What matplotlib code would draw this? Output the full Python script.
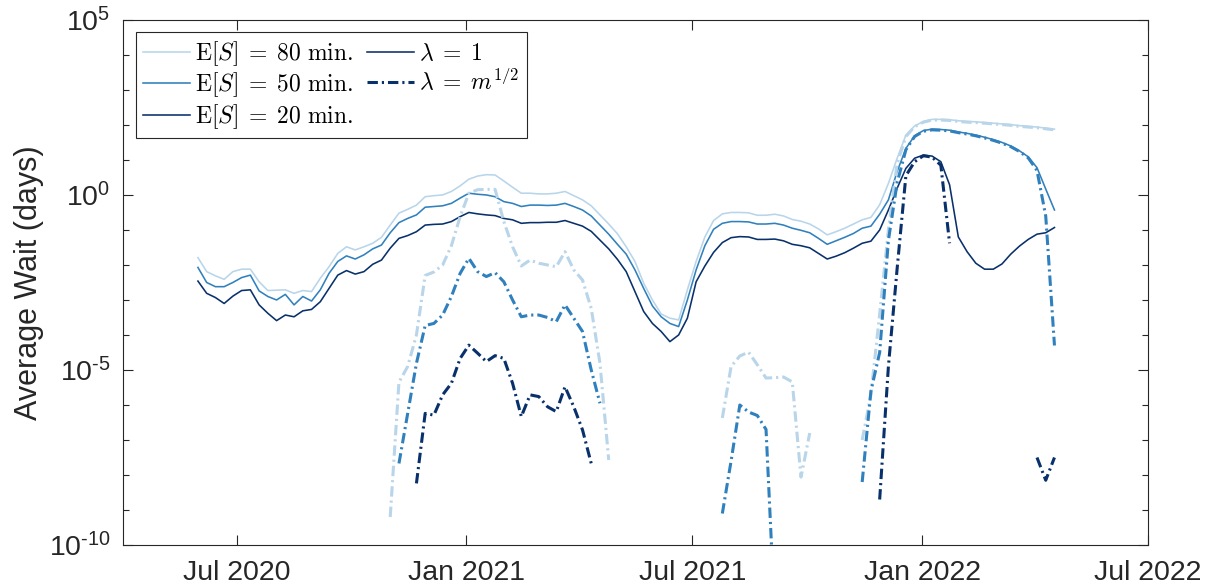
import numpy as np
import pandas as pd
import matplotlib
matplotlib.use("Agg")
import matplotlib.pyplot as plt
import matplotlib.dates as mdates
from matplotlib.lines import Line2D
from matplotlib.font_manager import FontProperties
from matplotlib.ticker import FixedLocator, FuncFormatter, NullFormatter

nan = np.nan

# weekly samples, values are log10(average wait in days)
dates = pd.date_range("2020-05-31", periods=99, freq="7D")

# lambda = 1 (solid)
es80_lam1 = [
    -1.79, -2.19, -2.31, -2.41, -2.19, -2.12, -2.12, -2.48, -2.73, -2.72,
    -2.71, -2.81, -2.73, -2.76, -2.38, -2.05, -1.67, -1.48, -1.57, -1.48,
    -1.38, -1.21, -0.86, -0.52, -0.41, -0.29, -0.05, -0.02, 0.00, 0.10,
    0.26, 0.45, 0.54, 0.58, 0.57, 0.40, 0.22, 0.05, 0.05, 0.03,
    0.03, 0.05, 0.10, -0.02, -0.14, -0.31, -0.57, -0.83, -1.11, -1.48,
    -1.90, -2.52, -3.00, -3.40, -3.52, -3.57, -2.71, -1.90, -1.20, -0.73,
    -0.54, -0.50, -0.50, -0.51, -0.58, -0.58, -0.55, -0.60, -0.70, -0.75,
    -0.83, -0.97, -1.14, -1.05, -0.95, -0.83, -0.71, -0.64, -0.28, 0.33,
    1.05, 1.71, 1.97, 2.10, 2.16, 2.16, 2.15, 2.12, 2.10, 2.09,
    2.07, 2.05, 2.03, 2.01, 1.98, 1.96, 1.94, 1.91, 1.88,
]
es50_lam1 = [
    -2.07, -2.50, -2.62, -2.62, -2.50, -2.36, -2.29, -2.74, -2.90, -3.00,
    -2.84, -3.14, -2.90, -3.03, -2.71, -2.24, -1.90, -1.74, -1.83, -1.71,
    -1.54, -1.43, -1.08, -0.79, -0.67, -0.57, -0.35, -0.33, -0.31, -0.24,
    -0.09, 0.05, 0.02, 0.00, -0.05, -0.19, -0.24, -0.33, -0.29, -0.29,
    -0.30, -0.29, -0.24, -0.33, -0.43, -0.60, -0.86, -1.12, -1.41, -1.69,
    -2.14, -2.67, -3.17, -3.48, -3.67, -3.76, -3.00, -2.14, -1.45, -0.98,
    -0.81, -0.76, -0.76, -0.77, -0.83, -0.83, -0.81, -0.86, -0.95, -1.01,
    -1.08, -1.24, -1.41, -1.31, -1.21, -1.10, -0.95, -0.89, -0.55, -0.14,
    0.67, 1.33, 1.69, 1.84, 1.88, 1.87, 1.85, 1.80, 1.76, 1.71,
    1.65, 1.58, 1.50, 1.40, 1.26, 1.09, 0.78, 0.17, -0.43,
]
es20_lam1 = [
    -2.46, -2.81, -2.93, -3.10, -2.89, -2.73, -2.71, -3.14, -3.38, -3.59,
    -3.43, -3.48, -3.31, -3.27, -3.05, -2.67, -2.29, -2.16, -2.26, -2.19,
    -1.98, -1.86, -1.52, -1.24, -1.16, -1.05, -0.86, -0.84, -0.83, -0.76,
    -0.62, -0.50, -0.54, -0.57, -0.59, -0.67, -0.71, -0.81, -0.79, -0.79,
    -0.78, -0.78, -0.73, -0.81, -0.89, -1.04, -1.29, -1.54, -1.84, -2.19,
    -2.76, -3.33, -3.67, -3.90, -4.19, -4.00, -3.52, -2.48, -2.03, -1.64,
    -1.36, -1.22, -1.19, -1.20, -1.27, -1.27, -1.26, -1.31, -1.41, -1.45,
    -1.51, -1.67, -1.83, -1.75, -1.65, -1.52, -1.38, -1.32, -1.00, -0.43,
    0.19, 0.76, 1.05, 1.14, 1.11, 0.95, 0.29, -1.20, -1.62, -1.95,
    -2.12, -2.12, -1.97, -1.69, -1.46, -1.27, -1.12, -1.08, -0.93,
]

# lambda = m^(1/2) (dash-dot), nan where no value
es80_sqrt = [nan] * 22 + [
    -9.2, -5.35, -4.9, -4.0, -2.3, -2.2, -2.0, -1.45,
    -0.62, 0.05, 0.15, 0.16, 0.16, -0.76, -1.48, -2.03, -1.86, -1.95,
    -2.00, -2.05, -1.62, -2.14, -2.43, -3.24, -4.81, -7.57, nan, nan,
] + [nan] * 10 + [
    -6.37, -4.9, -4.6, -4.49, -4.85, -5.23, -5.22, -5.20, -5.34, -8.06,
    -6.80, nan, nan, nan, nan, nan, -7.0, -5.7, -3.4, -1.0,
    0.9, 1.67, 1.95, 2.08, 2.14, 2.14, 2.13, 2.10, 2.08, 2.07,
    2.05, 2.03, 2.01, 1.99, 1.96, 1.94, 1.92, 1.89, 1.86,
]
es50_sqrt = [nan] * 23 + [
    -7.67, -6.24, -4.81, -3.73, -3.67, -3.43, -2.90,
    -2.24, -1.81, -2.19, -2.33, -2.22, -2.48, -3.00, -3.48, -3.43, -3.43,
    -3.50, -3.62, -3.14, -3.52, -3.90, -5.00, -5.95, nan, nan, nan,
] + [nan] * 10 + [
    -9.1, -7.6, -6.0, -6.2, -6.3, -6.7, -12.0, nan, nan, nan,
    nan, nan, nan, nan, nan, nan, -8.2, -5.6, -4.5, -1.3,
    0.35, 1.29, 1.67, 1.82, 1.86, 1.85, 1.83, 1.78, 1.74, 1.69,
    1.63, 1.56, 1.48, 1.38, 1.24, 1.06, 0.70, -0.60, -4.30,
]
es20_sqrt = [nan] * 25 + [
    -8.24, -6.24, -6.29, -5.71, -5.38,
    -4.67, -4.29, -4.52, -4.76, -4.59, -4.67, -5.38, -6.33, -5.71, -5.76,
    -6.05, -6.19, -5.48, -6.05, -6.71, -7.67, nan, nan, nan, nan,
] + [nan] * 20 + [
    nan, nan, nan, nan, nan, nan, nan, nan, -8.7, -4.9,
    -2.1, 0.55, 0.95, 1.12, 1.08, 0.85, -1.38, nan, nan, nan,
    nan, nan, nan, nan, nan, nan, -7.5, -8.15, -7.5,
]

labels_es = ["80", "50", "20"]
colors = ["#b8d5ea", "#3080bd", "#08306b"]

plt.rcParams["font.family"] = ["Liberation Sans", "DejaVu Sans"]
plt.rcParams["mathtext.fontset"] = "custom"
plt.rcParams["mathtext.rm"] = "Liberation Sans"
plt.rcParams["mathtext.it"] = "Liberation Sans:italic"

fig = plt.figure(figsize=(12.06, 5.88), dpi=100)
ax = fig.add_axes([0.102, 0.0731, 0.850, 0.893])

dashdot = (0, (3.4, 1.3, 0.7, 1.3))
solid_sets = [es80_lam1, es50_lam1, es20_lam1]
dash_sets = [es80_sqrt, es50_sqrt, es20_sqrt]

for vals, c in zip(solid_sets, colors):
    ax.plot(dates, 10.0 ** np.array(vals), color=c, lw=1.15)
for vals, c in zip(dash_sets, colors):
    ax.plot(dates, 10.0 ** np.array(vals), color=c, lw=2.2, linestyle=dashdot)

ax.set_yscale("log")
ax.set_ylim(1e-10, 1e5)
ax.set_xlim(pd.Timestamp("2020-04-01"), pd.Timestamp("2022-07-01"))


def fmt_pow(v, pos):
    e = int(round(np.log10(v)))
    if e < 0:
        return r"$10^{\text{-%d}}$" % (-e)
    return r"$10^{%d}$" % e


ax.yaxis.set_major_locator(FixedLocator([1e-10, 1e-5, 1e0, 1e5]))
ax.yaxis.set_major_formatter(FuncFormatter(fmt_pow))
ax.yaxis.set_minor_locator(FixedLocator([10.0 ** e for e in range(-10, 6)]))
ax.yaxis.set_minor_formatter(NullFormatter())

ax.xaxis.set_major_locator(FixedLocator(mdates.date2num(pd.to_datetime(
    ["2020-07-01", "2021-01-01", "2021-07-01", "2022-01-01", "2022-07-01"]))))
ax.xaxis.set_major_formatter(mdates.DateFormatter("%b %Y"))

ax.tick_params(which="both", direction="in", top=True, right=True,
               colors="#262626", labelsize=20.5, width=0.8)
ax.tick_params(which="major", length=7)
ax.tick_params(which="minor", length=4.5)
ax.tick_params(axis="x", which="major", pad=11)
ax.tick_params(axis="y", which="major", pad=9)
for s in ax.spines.values():
    s.set_color("#262626")
    s.set_linewidth(0.8)

ax.set_ylabel("Average Wait (days)", fontsize=22, color="#262626")
ax.yaxis.set_label_coords(-0.077, 0.5)

handles = [Line2D([], [], color=c, lw=1.15) for c in colors]
handles += [Line2D([], [], color=colors[2], lw=1.15),
            Line2D([], [], color=colors[2], lw=2.2, linestyle=dashdot)]
texts = [r"$\mathrm{E}[S]\;=\;%s\ \mathrm{min.}$" % e for e in labels_es]
texts += [r"$\lambda\;=\;1$", r"$\lambda\;=\;m^{1/2}$"]

leg = ax.legend(handles, texts, ncol=2, loc="upper left",
                bbox_to_anchor=(0.0125, 0.977), borderaxespad=0,
                prop=FontProperties(size=17, math_fontfamily="cm"),
                handlelength=2.0, handletextpad=0.2, columnspacing=0.6,
                labelspacing=0.12, borderpad=0.3, fancybox=False,
                framealpha=1, edgecolor="#262626")
leg.get_frame().set_linewidth(0.8)

fig.savefig("out.png", dpi=100)
